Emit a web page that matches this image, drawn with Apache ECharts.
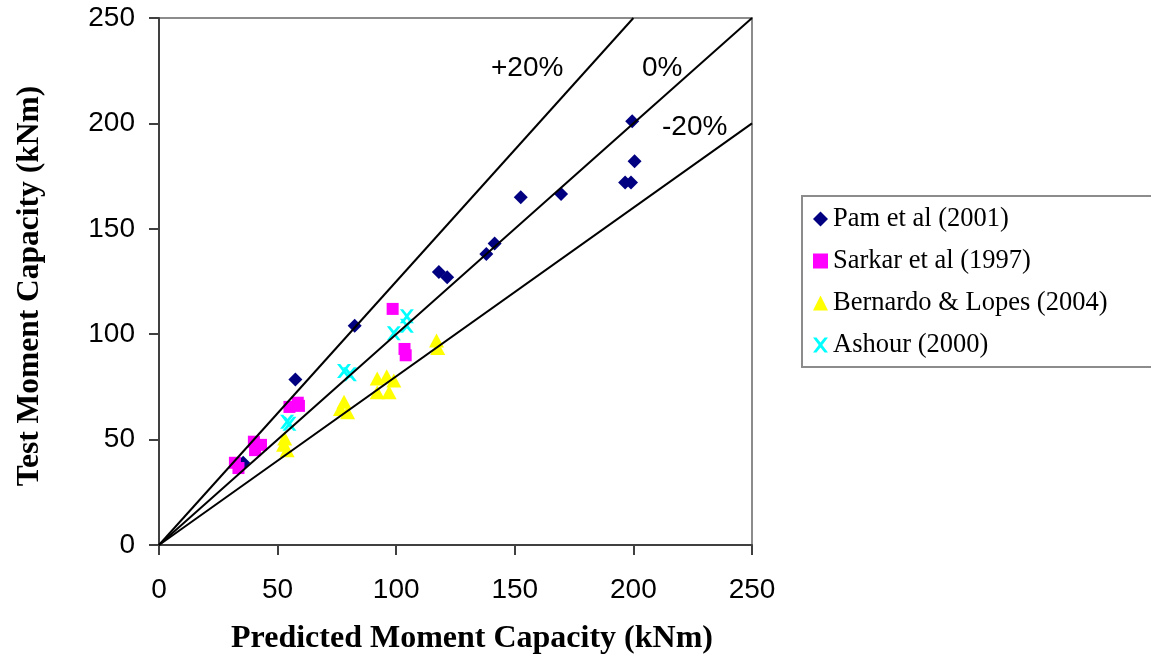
<!DOCTYPE html>
<html>
<head>
<meta charset="utf-8">
<script src="https://cdn.jsdelivr.net/npm/echarts@6/dist/echarts.min.js"></script>
<style>
  html, body { margin: 0; padding: 0; background: #fff; }
  #chart { width: 1151px; height: 664px; }
</style>
</head>
<body>
<div id="chart"></div>
<script>
// Predicted vs. test moment capacity (kNm), one array per data source
const seriesNames = ['Pam et al (2001)', 'Sarkar et al (1997)', 'Bernardo & Lopes (2004)', 'Ashour (2000)'];

const pam = [
  [199.5, 201], [200.5, 182], [196.5, 172], [199, 172],
  [152.5, 165], [169.5, 166.5], [141.5, 143], [138, 138],
  [118, 129.5], [121.5, 127], [82.5, 104], [57.5, 78.5], [35.5, 39]
];
const sarkar = [
  [98.5, 112], [103.5, 93], [104, 90],
  [55, 65.5], [58.5, 67.5], [59, 66],
  [40, 49], [43, 47.5], [40.5, 45],
  [32, 39], [33.5, 36.5]
];
const bernardo = [
  [117, 97], [117.5, 93.5],
  [92, 79], [96, 80], [99, 78], [92, 72.5], [97, 72.5],
  [78, 68], [76.5, 64.5], [79.5, 63],
  [53, 50.5], [52.5, 47.5], [54, 45]
];
const ashour = [
  [104.5, 108.5], [104.5, 104], [99, 100.5],
  [78, 82.5], [80.5, 81],
  [54, 58.5], [55, 57.5]
];

// Error bands: +20% (y = x / 0.8), 0% (y = x), -20% (y = 0.8 x)
const bandLabels = ['+20%', '0%', '-20%'];
const bandPlus = [[0, 0], [200, 250]];
const bandZero = [[0, 0], [250, 250]];
const bandMinus = [[0, 0], [250, 200]];

const axisTicks = [0, 50, 100, 150, 200, 250];

const SANS = '"Liberation Sans", Arial, sans-serif';
const SERIF = '"Liberation Serif", "Times New Roman", serif';

const DIAMOND = 'path://M5,0L10,5L5,10L0,5Z';
const CROSS = 'path://M0,0L2.3,0L5,3.3L7.7,0L10,0L6.2,5L10,10L7.7,10L5,6.7L2.3,10L0,10L3.8,5Z';

const chart = echarts.init(document.getElementById('chart'), null, { renderer: 'canvas' });

function bandSeries(data) {
  return {
    type: 'line',
    data: data,
    symbol: 'none',
    silent: true,
    z: 5,
    lineStyle: { color: '#000', width: 2 },
    animation: false
  };
}

const axisCommon = {
  type: 'value',
  min: axisTicks[0],
  max: axisTicks[axisTicks.length - 1],
  interval: axisTicks[1] - axisTicks[0],
  splitLine: { show: false },
  axisLine: { show: true, onZero: false, lineStyle: { color: '#404040', width: 2 } },
  axisTick: { show: true, inside: false, length: 10, lineStyle: { color: '#404040', width: 2 } },
  axisLabel: { color: '#000', fontFamily: SANS, fontSize: 28 }
};

chart.setOption({
  animation: false,
  backgroundColor: '#fff',
  grid: {
    left: 159, right: 399, top: 18, bottom: 119,
    show: true, borderColor: '#8c8c8c', borderWidth: 2, backgroundColor: 'transparent'
  },
  xAxis: Object.assign({}, axisCommon, {
    axisLabel: Object.assign({}, axisCommon.axisLabel, { margin: 31 })
  }),
  yAxis: Object.assign({}, axisCommon, {
    axisLabel: Object.assign({}, axisCommon.axisLabel, { margin: 24 })
  }),
  legend: {
    data: seriesNames,
    orient: 'vertical',
    left: 802,
    top: 196,
    padding: [8, 140, 7, 11],
    itemWidth: 15,
    itemHeight: 15,
    itemGap: 12,
    itemTextGap: 8,
    borderColor: '#8c8c8c',
    borderWidth: 2,
    selectedMode: false,
    textStyle: { fontFamily: SERIF, fontSize: 26.5, color: '#000', lineHeight: 30 }
  },
  graphic: [
    {
      type: 'text', x: 491, y: 68,
      style: { text: bandLabels[0], fontFamily: SANS, fontSize: 28, fill: '#000', align: 'left', verticalAlign: 'middle' }
    },
    {
      type: 'text', x: 642, y: 68,
      style: { text: bandLabels[1], fontFamily: SANS, fontSize: 28, fill: '#000', align: 'left', verticalAlign: 'middle' }
    },
    {
      type: 'text', x: 662, y: 127,
      style: { text: bandLabels[2], fontFamily: SANS, fontSize: 28, fill: '#000', align: 'left', verticalAlign: 'middle' }
    },
    {
      type: 'text', x: 472, y: 639,
      style: { text: 'Predicted Moment Capacity (kNm)', fontFamily: SERIF, fontWeight: 'bold', fontSize: 32, fill: '#000', align: 'center', verticalAlign: 'middle' }
    },
    {
      type: 'text', x: 30, y: 286, rotation: Math.PI / 2,
      style: { text: 'Test Moment Capacity (kNm)', fontFamily: SERIF, fontWeight: 'bold', fontSize: 31.5, fill: '#000', align: 'center', verticalAlign: 'middle' }
    }
  ],
  series: [
    {
      name: seriesNames[0], type: 'scatter', data: pam,
      symbol: DIAMOND, symbolSize: 14, z: 2,
      itemStyle: { color: '#000080', opacity: 1 }
    },
    {
      name: seriesNames[1], type: 'scatter', data: sarkar,
      symbol: 'rect', symbolSize: 12, z: 2,
      itemStyle: { color: '#ff00ff', opacity: 1 }
    },
    {
      name: seriesNames[2], type: 'scatter', data: bernardo,
      symbol: 'triangle', symbolSize: [15, 14], z: 2,
      itemStyle: { color: '#ffff00', opacity: 1 }
    },
    {
      name: seriesNames[3], type: 'scatter', data: ashour,
      symbol: CROSS, symbolSize: 14, z: 2,
      itemStyle: { color: '#00ffff', opacity: 1 }
    },
    bandSeries(bandPlus),
    bandSeries(bandZero),
    bandSeries(bandMinus)
  ]
});
</script>
</body>
</html>
